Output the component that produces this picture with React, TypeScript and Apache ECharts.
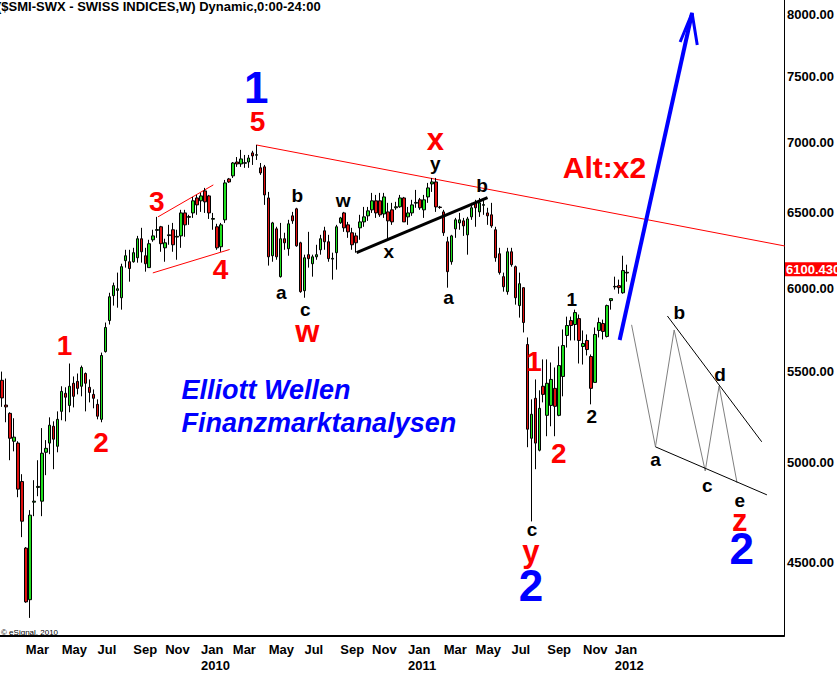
import { useEffect, useRef } from 'react';
import * as echarts from 'echarts';

// ---------- data ----------
const START_MONDAY = Date.UTC(2009, 0, 19);
const WEEK_MS = 7 * 86400000;
const TOTAL_WEEKS = 197; // includes empty weeks to the right of the last bar
const MONTHS = ['Jan', 'Feb', 'Mar', 'Apr', 'May', 'Jun', 'Jul', 'Aug', 'Sep', 'Oct', 'Nov', 'Dec'];

// weekly [open, close, low, high]
const ohlc: number[][] = [
  [5450, 5350, 5300, 5500], [5310, 5300, 5215, 5460], [5264, 5128, 5011, 5270], [5112, 5134, 5058, 5237],
  [5102, 4861, 4820, 5112], [4900, 4700, 4622, 4938], [4569, 4318, 4314, 4574], [4328, 4730, 4246, 4755],
  [4795, 4800, 4725, 4907], [4870, 4875, 4825, 5011], [4800, 5048, 4725, 5183], [5053, 5074, 4933, 5118],
  [5102, 5199, 5043, 5242], [5193, 5123, 4964, 5220], [5085, 5231, 5053, 5275], [5275, 5387, 5226, 5416],
  [5376, 5354, 5220, 5410], [5308, 5416, 5270, 5547], [5433, 5359, 5297, 5472], [5444, 5404, 5370, 5489],
  [5416, 5524, 5359, 5535], [5489, 5433, 5275, 5495], [5410, 5381, 5325, 5455], [5370, 5348, 5292, 5398],
  [5314, 5248, 5231, 5342], [5231, 5594, 5215, 5611], [5617, 5761, 5611, 5791], [5803, 5950, 5779, 5975],
  [5957, 6020, 5895, 6039], [5990, 6000, 5882, 6103], [5944, 6141, 5870, 6160], [6180, 6212, 6135, 6251],
  [6173, 6129, 6045, 6251], [6173, 6232, 6167, 6264], [6199, 6324, 6167, 6343], [6324, 6238, 6167, 6397],
  [6212, 6160, 6109, 6264], [6135, 6291, 6135, 6317], [6317, 6343, 6304, 6384], [6380, 6385, 6330, 6471],
  [6404, 6291, 6238, 6410], [6264, 6297, 6173, 6324], [6345, 6350, 6284, 6417], [6384, 6284, 6238, 6430],
  [6335, 6340, 6186, 6384], [6343, 6498, 6264, 6519], [6498, 6417, 6337, 6519], [6468, 6473, 6417, 6485],
  [6498, 6581, 6464, 6608], [6601, 6553, 6485, 6622], [6581, 6615, 6505, 6636], [6650, 6574, 6498, 6671],
  [6615, 6498, 6457, 6622], [6455, 6460, 6384, 6498], [6404, 6264, 6251, 6424], [6271, 6417, 6238, 6430],
  [6451, 6706, 6430, 6727], [6734, 6713, 6706, 6741], [6756, 6848, 6741, 6855], [6855, 6841, 6820, 6891],
  [6841, 6877, 6820, 6943], [6846, 6850, 6813, 6906], [6855, 6884, 6813, 6906], [6921, 6899, 6834, 6936],
  [6904, 6908, 6870, 6979], [6813, 6777, 6763, 6848], [6820, 6622, 6553, 6834], [6601, 6205, 6148, 6643],
  [6212, 6430, 6173, 6437], [6390, 6205, 6186, 6404], [6077, 6324, 6071, 6430], [6324, 6297, 6251, 6364],
  [6258, 6424, 6212, 6451], [6478, 6444, 6424, 6505], [6526, 6277, 6271, 6533], [6297, 5982, 5975, 6304],
  [5988, 6199, 5944, 6219], [6219, 6193, 6135, 6370], [6160, 6205, 6077, 6219], [6205, 6219, 6186, 6284],
  [6251, 6324, 6219, 6350], [6377, 6304, 6251, 6404], [6304, 6193, 6173, 6350], [6190, 6195, 6058, 6232],
  [6232, 6404, 6122, 6417], [6431, 6464, 6424, 6471], [6498, 6397, 6370, 6505], [6417, 6370, 6330, 6437],
  [6364, 6284, 6251, 6397], [6343, 6297, 6232, 6364], [6397, 6437, 6317, 6485], [6437, 6471, 6404, 6539],
  [6478, 6512, 6444, 6539], [6519, 6581, 6498, 6636], [6581, 6498, 6464, 6622], [6581, 6485, 6471, 6636],
  [6491, 6608, 6464, 6636], [6505, 6444, 6317, 6567], [6519, 6437, 6417, 6567], [6533, 6540, 6519, 6574],
  [6540, 6601, 6533, 6622], [6601, 6437, 6437, 6608], [6471, 6498, 6417, 6539], [6498, 6553, 6478, 6588],
  [6565, 6570, 6533, 6657], [6588, 6533, 6519, 6601], [6519, 6588, 6464, 6622], [6608, 6671, 6567, 6706],
  [6699, 6713, 6643, 6741], [6713, 6539, 6505, 6741], [6538, 6535, 6526, 6546], [6505, 6364, 6343, 6519],
  [6304, 6109, 6007, 6337], [6173, 6343, 6154, 6350], [6390, 6451, 6330, 6464], [6430, 6451, 6384, 6498],
  [6444, 6410, 6343, 6464], [6350, 6457, 6219, 6471], [6471, 6533, 6451, 6567], [6567, 6533, 6404, 6588],
  [6505, 6567, 6471, 6601], [6550, 6555, 6485, 6588], [6498, 6478, 6417, 6533], [6485, 6410, 6397, 6567],
  [6384, 6199, 6173, 6404], [6225, 6103, 6090, 6264], [6077, 6013, 5982, 6103], [5982, 6238, 5963, 6264],
  [6238, 6154, 6141, 6264], [6141, 5944, 5901, 6148], [5895, 6032, 5821, 6103], [6007, 5791, 5731, 6010],
  [5659, 5177, 5080, 5701], [5128, 5259, 4699, 5342], [5348, 5102, 4964, 5455], [5064, 5292, 5058, 5393],
  [5416, 5370, 5325, 5571], [5253, 5433, 5139, 5571], [5308, 5455, 5193, 5553], [5404, 5303, 5139, 5524],
  [5253, 5535, 5248, 5647], [5472, 5653, 5359, 5749], [5713, 5773, 5641, 5827], [5803, 5773, 5683, 5827],
  [5779, 5852, 5683, 5870], [5815, 5683, 5547, 5840], [5647, 5665, 5541, 5743], [5683, 5629, 5594, 5719],
  [5588, 5404, 5314, 5600], [5438, 5719, 5438, 5761], [5743, 5791, 5701, 5821], [5785, 5737, 5689, 5809],
  [5707, 5895, 5701, 5901], [5926, 5938, 5870, 5938], [6012, 6015, 5995, 6077], [6020, 6007, 5969, 6058],
  [5975, 6116, 5969, 6212], [6105, 6100.43, 6045, 6154],
];
const LAST_PRICE = 6100.43;
const PRICE_TICKS = [4500, 5000, 5500, 6000, 6500, 7000, 7500, 8000];
const PRICE_MIN = 4166;
const PRICE_MAX = 8127;

// annotations: [text, week index, price]
const blueWaveLabels: [string, number, number][] = [
  ['1', 63.9, 7410], ['2', 132.9, 4392], ['2', 185.9, 4566],
];
const redWaveLabels: [string, number, number][] = [
  ['5', 64.2, 7150], ['3', 38.9, 6574], ['4', 54.9, 6125], ['1', 15.7, 5655], ['2', 24.9, 5105],
  ['1', 133.7, 5556], ['2', 139.9, 5045],
];
const redLetterLabels: [string, number, number][] = [
  ['w', 76.7, 5737], ['x', 108.9, 7016], ['y', 132.9, 4551], ['z', 185.4, 4702],
];
const blackLabels: [string, number, number][] = [
  ['b', 74.2, 6615], ['a', 70.2, 5976], ['c', 76.2, 5870], ['w', 85.7, 6580], ['x', 97.2, 6237],
  ['y', 108.9, 6841], ['b', 120.6, 6685], ['a', 112.2, 5944], ['1', 143.2, 5930], ['2', 148.2, 5245],
  ['c', 133.2, 4658], ['b', 170.2, 5850], ['a', 164.2, 5013], ['d', 180.4, 5486], ['c', 177.2, 4878],
  ['e', 185.4, 4802],
];
const altLabel: [string, number, number] = ['Alt:x2', 151.4, 6812];
const brandLines: [string, number, number][] = [
  ['Elliott Wellen', 45.0, 5395], ['Finanzmarktanalysen', 45.0, 5211],
];

// trend lines: [week index, price]
const mainResistance: [number, number][] = [[63.9, 6979], [196.7, 6276]];
const wave3Upper: [number, number][] = [[39.2, 6471], [53.1, 6692]];
const wave4Lower: [number, number][] = [[37.9, 6101], [57.2, 6253]];
const xLine: [number, number][] = [[89.1, 6233], [122.0, 6603]];
const blueArrow: [number, number][] = [[155.2, 5686], [173.4, 8017]];
const blueArrowHead: [number, number][] = [[170.4, 7776], [173.4, 8017], [174.7, 7752]];
const triangleZigzag: [number, number][] = [
  [158.2, 5777], [164.2, 5082], [168.9, 5746], [176.7, 4955], [180.2, 5418], [184.7, 4893],
];
const triangleUpper: [number, number][] = [[167.2, 5831], [190.9, 5109]];
const triangleLower: [number, number][] = [[164.2, 5082], [192.2, 4832]];

// ---------- chart ----------
const FONT = '"Liberation Sans", Arial, Helvetica, sans-serif';
const RED = '#ff0000';
const BLUE = '#0000ff';
const L = Math.log;

const weekDates = Array.from({ length: TOTAL_WEEKS }, (_, i) => new Date(START_MONDAY + i * WEEK_MS));
const categories = weekDates.map((d) => d.toISOString().slice(0, 10));

function isLabelWeek(i: number) {
  if (i >= ohlc.length) return false;
  const d = weekDates[i];
  return d.getUTCMonth() % 2 === 0 && d.getUTCDate() <= 7;
}

function lineSeries(pts: [number, number][], color: string, width: number, z = 4) {
  return {
    type: 'line',
    xAxisIndex: 1,
    yAxisIndex: 0,
    data: pts.map(([w, p]) => [w, L(p)]),
    symbol: 'none',
    silent: true,
    z,
    lineStyle: { color, width, opacity: 1 },
  };
}

function textSeries(items: [string, number, number][], style: any, position: string = 'inside') {
  return {
    type: 'scatter',
    xAxisIndex: 1,
    yAxisIndex: 0,
    symbol: 'circle',
    symbolSize: 1,
    silent: true,
    z: 6,
    itemStyle: { color: 'rgba(0,0,0,0)', opacity: 1 },
    data: items.map(([t, w, p]) => ({
      value: [w, L(p)],
      label: {
        show: true,
        position,
        distance: 0,
        formatter: t,
        fontFamily: FONT,
        fontWeight: 'bold',
        opacity: 1,
        ...style,
      },
    })),
  };
}

function buildOption() {
  return {
    animation: false,
    backgroundColor: '#ffffff',
    grid: { left: -2.5, top: 0, width: TOTAL_WEEKS * 4, height: 636, containLabel: false },
    xAxis: [
      {
        type: 'category',
        data: categories,
        boundaryGap: true,
        axisLine: { show: true, lineStyle: { color: '#000', width: 2 } },
        axisTick: { show: false },
        splitLine: { show: false },
        axisLabel: {
          interval: (i: number) => isLabelWeek(i),
          formatter: (v: string) => {
            const d = new Date(v + 'T00:00:00Z');
            const m = MONTHS[d.getUTCMonth()];
            return d.getUTCMonth() === 0 ? m + '\n' + d.getUTCFullYear() : m;
          },
          align: 'left',
          margin: 5,
          color: '#000',
          fontFamily: FONT,
          fontWeight: 'bold',
          fontSize: 13,
          lineHeight: 16,
        },
      },
      { type: 'value', min: -0.5, max: TOTAL_WEEKS - 0.5, show: false },
    ],
    yAxis: {
      type: 'value',
      position: 'right',
      min: L(PRICE_MIN),
      max: L(PRICE_MAX),
      axisLine: { show: true, onZero: false, lineStyle: { color: '#000', width: 1 } },
      axisTick: { show: false },
      splitLine: { show: false },
      axisLabel: {
        customValues: PRICE_TICKS.map((p) => L(p)),
        formatter: (v: number) => Math.round(Math.exp(v)).toFixed(2),
        color: '#000',
        fontFamily: FONT,
        fontWeight: 'bold',
        fontSize: 13,
        margin: 3,
        align: 'left',
      },
    },
    graphic: [
      {
        type: 'text',
        x: -3,
        y: 0,
        style: {
          text: '($SMI-SWX - SWISS INDICES,W) Dynamic,0:00-24:00',
          font: 'bold 13px ' + FONT,
          fill: '#000',
          verticalAlign: 'top',
        },
      },
      {
        type: 'text',
        x: 1,
        y: 628,
        style: { text: '\u00a9 eSignal, 2010', font: '8px ' + FONT, fill: '#000', verticalAlign: 'top' },
      },
    ],
    series: [
      lineSeries(mainResistance, RED, 1, 2),
      lineSeries(wave3Upper, RED, 1, 2),
      lineSeries(wave4Lower, RED, 1, 2),
      {
        type: 'candlestick',
        xAxisIndex: 0,
        yAxisIndex: 0,
        barWidth: 3,
        z: 3,
        data: ohlc.map((d) => d.map((v) => L(v))),
        itemStyle: {
          color: '#1ee01e',
          color0: '#e01010',
          borderColor: '#000',
          borderColor0: '#000',
          borderWidth: 1,
          opacity: 1,
        },
        markLine: {
          silent: true,
          symbol: ['none', 'none'],
          lineStyle: { color: 'rgba(0,0,0,0)', width: 0 },
          data: [{ yAxis: L(LAST_PRICE) }],
          label: {
            show: true,
            position: 'end',
            distance: 1,
            formatter: LAST_PRICE.toFixed(3),
            backgroundColor: RED,
            color: '#fff',
            fontFamily: FONT,
            fontWeight: 'bold',
            fontSize: 13,
            padding: [1, 2, 0, 1],
          },
        },
      },
      lineSeries(xLine, '#000', 3),
      lineSeries(triangleZigzag, '#808080', 1),
      lineSeries(triangleUpper, '#000', 1),
      lineSeries(triangleLower, '#000', 1),
      lineSeries(blueArrow, BLUE, 4, 5),
      lineSeries(blueArrowHead, BLUE, 3, 5),
      textSeries(blueWaveLabels, { color: BLUE, fontSize: 44 }),
      textSeries(redWaveLabels, { color: RED, fontSize: 28 }),
      textSeries(redLetterLabels, { color: RED, fontSize: 31 }),
      textSeries(blackLabels, { color: '#000', fontSize: 19 }),
      textSeries([altLabel], { color: RED, fontSize: 30 }),
      textSeries(brandLines, { color: BLUE, fontSize: 27, fontStyle: 'italic' }, 'right'),
    ],
  };
}

export default function App() {
  const ref = useRef<HTMLDivElement>(null);
  useEffect(() => {
    const chart = echarts.init(ref.current!, null, { renderer: 'svg' });
    chart.setOption(buildOption() as any);
    return () => chart.dispose();
  }, []);
  return (
    <div
      ref={ref}
      style={{ position: 'absolute', left: 0, top: 0, width: 837, height: 674, background: '#fff' }}
    />
  );
}
